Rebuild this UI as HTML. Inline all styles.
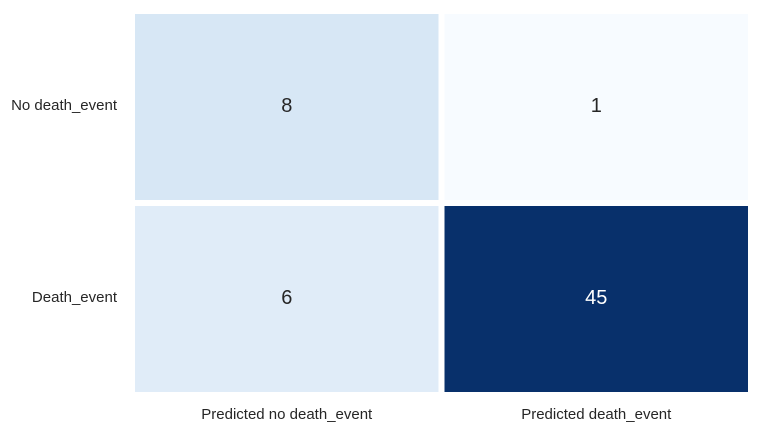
<!DOCTYPE html>
<html><head><meta charset="utf-8">
<style>
body{margin:0;background:#fff;}
svg{display:block;font-family:"Liberation Sans",Arial,sans-serif;}
</style></head>
<body>
<svg id="chart" width="760" height="432"></svg>
<script>
const rowLabels = ["No death_event", "Death_event"];
const colLabels = ["Predicted no death_event", "Predicted death_event"];
const values = [[8, 1], [6, 45]];

const svg = document.getElementById('chart');
const NS = 'http://www.w3.org/2000/svg';
const x0 = 132, x1 = 751, y0 = 11, y1 = 395, gap = 3;
const cw = (x1 - x0) / colLabels.length, ch = (y1 - y0) / rowLabels.length;
const xScale = c => x0 + c * cw;
const yScale = r => y0 + r * ch;
const flat = values.flat();
const vmin = Math.min(...flat), vmax = Math.max(...flat);
const stops = [[0,[247,251,255]],[0.125,[222,235,247]],[0.25,[198,219,239]],[0.375,[158,202,225]],[0.5,[107,174,214]],[0.625,[66,146,198]],[0.75,[33,113,181]],[0.875,[8,81,156]],[1,[8,48,107]]];
function blues(t){
  for(let i=1;i<stops.length;i++){
    if(t<=stops[i][0]){
      const [a,ca]=stops[i-1],[b,cb]=stops[i];const f=(t-a)/(b-a);
      return 'rgb('+ca.map((v,k)=>Math.round(v+(cb[k]-v)*f)).join(',')+')';
    }
  }
  return 'rgb(8,48,107)';
}
function mk(tag, attrs){const e=document.createElementNS(NS,tag);for(const k in attrs)e.setAttribute(k,attrs[k]);svg.appendChild(e);return e;}
values.forEach((row, r) => {
  row.forEach((v, c) => {
    const t = (v - vmin) / (vmax - vmin);
    const rect = mk('rect', {x: xScale(c)+gap, y: yScale(r)+gap, width: cw-2*gap, height: ch-2*gap, fill: blues(t)});
    
    
    const txt = mk('text', {x: xScale(c)+cw/2, y: yScale(r)+ch/2+5, 'text-anchor':'middle', 'font-size':20, fill: t>0.5?'#ffffff':'#262626'});
    txt.textContent = v;
    
    
  });
});
rowLabels.forEach((l, r) => {
  const t = mk('text', {x: 117, y: yScale(r)+ch/2+3, 'text-anchor':'end', 'font-size':15, fill:'#262626'});
  t.textContent = l;
  
  
});
colLabels.forEach((l, c) => {
  const t = mk('text', {x: xScale(c)+cw/2, y: 419, 'text-anchor':'middle', 'font-size':15, fill:'#262626'});
  t.textContent = l;
  
  
});
</script>
</body></html>
